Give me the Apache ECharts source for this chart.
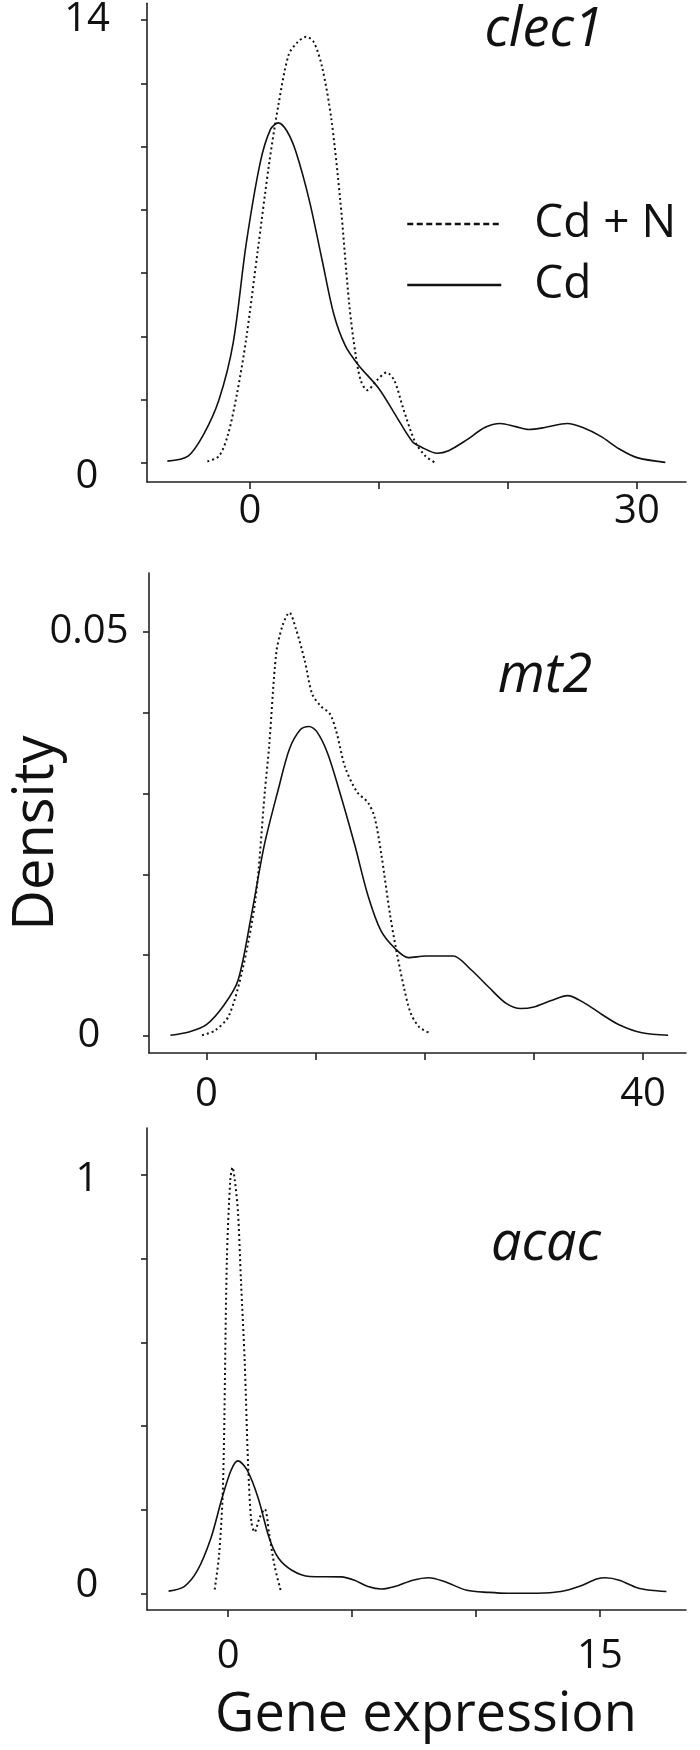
<!DOCTYPE html>
<html>
<head>
<meta charset="utf-8">
<script src="https://cdn.jsdelivr.net/npm/echarts@6/dist/echarts.min.js"></script>
<style>
  html, body { margin: 0; padding: 0; background: #fff; }
  #chart { width: 700px; height: 1750px; }
</style>
</head>
<body>
<div id="chart"></div>
<script>
// gene panels, top to bottom
const genes = ['clec1', 'mt2', 'acac']
const seriesNames = ['Cd + N', 'Cd']

// ticks / labels per panel
const yTickValues = [[0, 2, 4, 6, 8, 10, 12, 14], [0, 0.01, 0.02, 0.03, 0.04, 0.05], [0, 0.2, 0.4, 0.6, 0.8, 1]]
const yLabelValues = [[0, 14], [0, 0.05], [0, 1]]
const xTickValues = [[0, 10, 20, 30], [0, 10, 20, 30, 40], [0, 5, 10, 15]]
const xLabelValues = [[0, 30], [0, 40], [0, 15]]

// density curves: [gene expression, density]
const clec1CdN = [[-3.3, 0.05], [-2.4, 0.22], [-1.7, 0.9], [-1.0, 2.2], [-0.3, 3.9], [0.6, 6.7], [1.5, 9.5], [2.2, 11.3], [3.0, 12.9], [3.7, 13.3], [4.35, 13.47], [4.95, 13.3], [5.6, 12.5], [6.3, 10.9], [7.0, 8.3], [7.7, 5.0], [8.2, 3.4], [8.6, 2.6], [9.1, 2.3], [9.8, 2.6], [10.6, 2.86], [11.2, 2.6], [11.9, 1.7], [12.8, 0.67], [13.6, 0.22], [14.3, 0.02]]
const clec1Cd = [[-6.4, 0.06], [-4.8, 0.22], [-3.6, 0.9], [-2.4, 2.0], [-1.3, 3.8], [-0.3, 6.9], [0.8, 9.5], [1.6, 10.55], [2.2, 10.75], [2.85, 10.5], [3.55, 9.85], [4.6, 8.3], [5.6, 6.4], [6.5, 4.7], [7.4, 3.7], [8.4, 3.1], [10.0, 2.35], [11.2, 1.57], [12.6, 0.67], [13.3, 0.5], [14.5, 0.31], [15.4, 0.39], [16.8, 0.73], [18.2, 1.12], [19.4, 1.25], [20.6, 1.15], [21.6, 1.06], [22.85, 1.12], [24.6, 1.25], [25.8, 1.12], [27.2, 0.84], [28.6, 0.45], [30.0, 0.17], [32.2, 0.02]]

const mt2CdN = [[-0.4, 0.0001], [0.8, 0.0007], [2.05, 0.0025], [3.3, 0.0082], [4.5, 0.017], [5.35, 0.0302], [5.75, 0.0359], [6.4, 0.0474], [7.0, 0.0509], [7.6, 0.0524], [8.2, 0.0504], [9.0, 0.0465], [9.7, 0.0423], [10.5, 0.0408], [11.3, 0.0399], [11.9, 0.0377], [12.7, 0.0333], [13.8, 0.0302], [14.8, 0.0289], [15.4, 0.0271], [16.0, 0.0227], [16.85, 0.0148], [17.5, 0.0099], [18.1, 0.006], [18.7, 0.0029], [19.5, 0.0011], [20.6, 0.0003]]
const mt2Cd = [[-3.3, 0.0001], [-1.6, 0.0005], [0, 0.0014], [1.6, 0.0038], [2.9, 0.0069], [4.1, 0.0148], [5.3, 0.0236], [6.6, 0.0306], [7.6, 0.0355], [8.6, 0.0379], [9.4, 0.0383], [10.1, 0.0377], [11.1, 0.035], [12.3, 0.0298], [13.6, 0.0236], [14.8, 0.0174], [16.0, 0.013], [17.3, 0.0108], [18.5, 0.0097], [20.1, 0.0099], [22.6, 0.0099], [24.25, 0.0082], [25.9, 0.006], [27.5, 0.004], [28.8, 0.0034], [30.0, 0.0036], [31.6, 0.0044], [33.1, 0.005], [34.5, 0.0042], [36.2, 0.0027], [37.8, 0.0014], [39.9, 0.0004], [42.3, 0.0001]]

const acacCdN = [[-0.54, 0.01], [-0.36, 0.094], [-0.2, 0.267], [-0.05, 0.795], [0.09, 0.988], [0.18, 1.018], [0.27, 0.988], [0.4, 0.911], [0.52, 0.747], [0.67, 0.555], [0.81, 0.305], [0.94, 0.171], [1.07, 0.147], [1.27, 0.181], [1.48, 0.202], [1.66, 0.142], [1.88, 0.065], [2.12, 0.008]]
const acacCd = [[-2.4, 0.006], [-1.77, 0.017], [-1.23, 0.056], [-0.69, 0.133], [-0.24, 0.229], [0.13, 0.296], [0.4, 0.317], [0.76, 0.296], [1.21, 0.229], [1.66, 0.133], [2.03, 0.085], [2.57, 0.056], [3.29, 0.041], [4.56, 0.040], [5.1, 0.032], [5.64, 0.017], [6.19, 0.011], [6.73, 0.017], [7.45, 0.032], [8.09, 0.038], [8.72, 0.029], [9.63, 0.008], [10.53, 0.003], [11.25, 0.001], [12.5, 0.001], [13.42, 0.005], [14.15, 0.017], [14.87, 0.035], [15.23, 0.038], [15.78, 0.032], [16.5, 0.014], [17.04, 0.008], [17.68, 0.005]]

const curves = [[clec1CdN, clec1Cd], [mt2CdN, mt2Cd], [acacCdN, acacCd]]

const font = '"Open Sans", "Liberation Sans", sans-serif'
const ink = '#111'

// layout
const grids = [
  { left: 147, top: 0, width: 539, height: 482 },
  { left: 149, top: 573, width: 537, height: 480 },
  { left: 147, top: 1128, width: 539, height: 482 }
]
const xRange = [[-7.98, 33.8], [-5.26, 43.94], [-3.27, 18.47]]
const yRange = [[-0.6, 14.53], [-0.0021, 0.0573], [-0.039, 1.112]]
const xLabelMargin = [30, 42, 47]
const titlePos = [[544, 31], [545, 677], [546, 1245]]

// per-label vertical nudges (rich padding), panel -> value -> padding
const labelNudge = {
  '0_0': [28, 0, 0, 0],
  '2_1': [10, 0, 0, 0],
  '2_0': [0, 0, 16, 0]
}

const chart = echarts.init(document.getElementById('chart'), null, { renderer: 'canvas' })

const axisLineStyle = { color: '#222', width: 1.6 }
const labelText = { fontFamily: font, fontSize: 40, color: ink }

const xAxes = grids.map((g, i) => ({
  type: 'value',
  gridIndex: i,
  min: xRange[i][0],
  max: xRange[i][1],
  axisLine: { show: true, onZero: false, lineStyle: axisLineStyle },
  axisTick: { show: true, length: 7, customValues: xTickValues[i], lineStyle: axisLineStyle },
  axisLabel: Object.assign({
    customValues: xLabelValues[i],
    margin: xLabelMargin[i],
    verticalAlign: 'middle'
  }, labelText),
  splitLine: { show: false }
}))

const yAxes = grids.map((g, i) => {
  const rich = {}
  Object.keys(labelNudge).forEach((k) => {
    rich['n' + k] = Object.assign({ padding: labelNudge[k] }, labelText)
  })
  return {
    type: 'value',
    gridIndex: i,
    min: yRange[i][0],
    max: yRange[i][1],
    axisLine: { show: true, onZero: false, lineStyle: axisLineStyle },
    axisTick: { show: true, length: 6, customValues: yTickValues[i], lineStyle: axisLineStyle },
    axisLabel: Object.assign({
      customValues: yLabelValues[i],
      margin: 60,
      align: 'center',
      formatter: (v) => {
        const k = i + '_' + v
        return labelNudge[k] ? '{n' + k + '|' + v + '}' : String(v)
      },
      rich: rich
    }, labelText),
    splitLine: { show: false }
  }
})

const series = []
curves.forEach((pair, i) => {
  series.push({
    name: seriesNames[0],
    type: 'line',
    xAxisIndex: i,
    yAxisIndex: i,
    data: pair[0],
    smooth: 0.3,
    symbol: 'none',
    color: ink,
    lineStyle: { color: ink, width: 2, type: [2, 3] },
    z: 3
  })
  series.push({
    name: seriesNames[1],
    type: 'line',
    xAxisIndex: i,
    yAxisIndex: i,
    data: pair[1],
    smooth: 0.3,
    symbol: 'none',
    color: ink,
    lineStyle: { color: ink, width: 1.6, type: 'solid' },
    z: 4
  })
})

const textStyleOf = (text, size, italic) => ({
  text: text,
  font: (italic ? 'italic ' : '') + size + 'px ' + font,
  fill: ink,
  textAlign: 'center',
  textVerticalAlign: 'middle',
  align: 'center',
  verticalAlign: 'middle'
})

const graphics = genes.map((name, i) => ({
  type: 'text',
  x: titlePos[i][0],
  y: titlePos[i][1],
  style: textStyleOf(name, 54, true)
}))
graphics.push({ type: 'text', x: 37, y: 833, rotation: Math.PI / 2, style: textStyleOf('Density', 56, false) })
graphics.push({ type: 'text', x: 426, y: 1716, style: textStyleOf('Gene expression', 54, false) })

chart.setOption({
  animation: false,
  backgroundColor: '#fff',
  grid: grids,
  xAxis: xAxes,
  yAxis: yAxes,
  legend: {
    orient: 'vertical',
    left: 401,
    top: 196,
    itemWidth: 94,
    itemHeight: 14,
    itemGap: 15,
    selectedMode: false,
    itemStyle: { opacity: 0, color: 'rgba(0,0,0,0)', borderWidth: 0 },
    data: [
      { name: seriesNames[0], itemStyle: { opacity: 0, color: 'rgba(0,0,0,0)', borderWidth: 0 }, lineStyle: { color: ink, width: 2.5, type: [6, 3.5] } },
      { name: seriesNames[1], itemStyle: { opacity: 0, color: 'rgba(0,0,0,0)', borderWidth: 0 }, lineStyle: { color: ink, width: 2.5, type: 'solid' } }
    ],
    textStyle: { fontFamily: font, fontSize: 46, lineHeight: 46, color: ink, padding: [0, 0, 0, 28] }
  },
  graphic: graphics,
  series: series
})
</script>
</body>
</html>
